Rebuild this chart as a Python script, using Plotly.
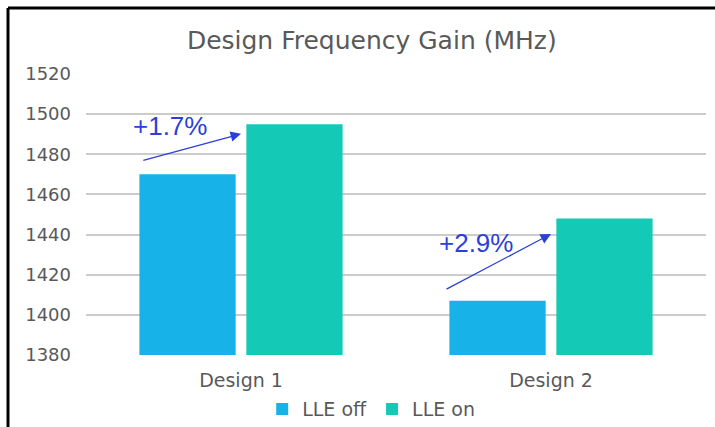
import plotly.graph_objects as go

categories = ["Design 1", "Design 2"]
lle_off = [1470, 1407]
lle_on = [1495, 1448]
gain_labels = ["+1.7%", "+2.9%"]

# annotation geometry (category-index x, data y)
arrow_start_x = [-0.32, 0.658]
arrow_start_y = [1476.8, 1412.4]
arrow_end_x = [0.0, 1.0]
arrow_end_y = [1490.2, 1440.3]
label_x = [-0.23, 0.758]
label_y = [1494.2, 1435.9]

blue_ann = "#2b3fd9"

fig = go.Figure()
fig.add_trace(go.Bar(name="LLE off", x=categories, y=lle_off,
                     marker=dict(color="#16b2e8", line=dict(width=0))))
fig.add_trace(go.Bar(name="LLE on", x=categories, y=lle_on,
                     marker=dict(color="#14c9b6", line=dict(width=0))))

annotations = []
for i in range(2):
    annotations.append(dict(
        x=arrow_end_x[i], y=arrow_end_y[i], xref="x", yref="y",
        ax=arrow_start_x[i], ay=arrow_start_y[i], axref="x", ayref="y",
        text="", showarrow=True, arrowhead=2, arrowsize=1.6, arrowwidth=1.3,
        arrowcolor=blue_ann, standoff=0, startstandoff=0))
    annotations.append(dict(
        x=label_x[i], y=label_y[i], xref="x", yref="y", text=gain_labels[i],
        showarrow=False, font=dict(family="Liberation Sans", size=26, color=blue_ann)))

fig.update_layout(
    width=715, height=427,
    margin=dict(l=86, r=9, t=74, b=72, autoexpand=False),
    paper_bgcolor="white", plot_bgcolor="white",
    title=dict(text="Design Frequency Gain (MHz)", x=0.52, xanchor="center",
               y=0.905, yanchor="middle",
               font=dict(family="DejaVu Sans", size=25, color="#595959")),
    barmode="group", bargap=0.31, bargroupgap=0.1,
    showlegend=True,
    legend=dict(orientation="h", x=0.46, xanchor="center", y=-0.125, yanchor="top",
                font=dict(family="DejaVu Sans", size=19, color="#595959"),
                itemwidth=30, tracegroupgap=0),
    annotations=annotations,
    shapes=[
        dict(type="line", xref="paper", yref="paper", x0=-0.1258, x1=-0.1258,
             y0=-0.26, y1=1.2349, line=dict(color="black", width=3)),
        dict(type="line", xref="paper", yref="paper", x0=-0.1258, x1=1.02,
             y0=1.2349, y1=1.2349, line=dict(color="black", width=3)),
    ],
)
fig.update_xaxes(showgrid=False, showline=False, ticks="",
                 tickfont=dict(family="DejaVu Sans", size=19, color="#595959"),
                 ticklabelstandoff=12)
fig.update_yaxes(range=[1380, 1520], dtick=20,
                 tickfont=dict(family="DejaVu Sans", size=18, color="#595959"),
                 showgrid=True, gridcolor="#cccccc", gridwidth=2,
                 zeroline=False, showline=False, ticklabelstandoff=14)

fig.write_html("out.html")
